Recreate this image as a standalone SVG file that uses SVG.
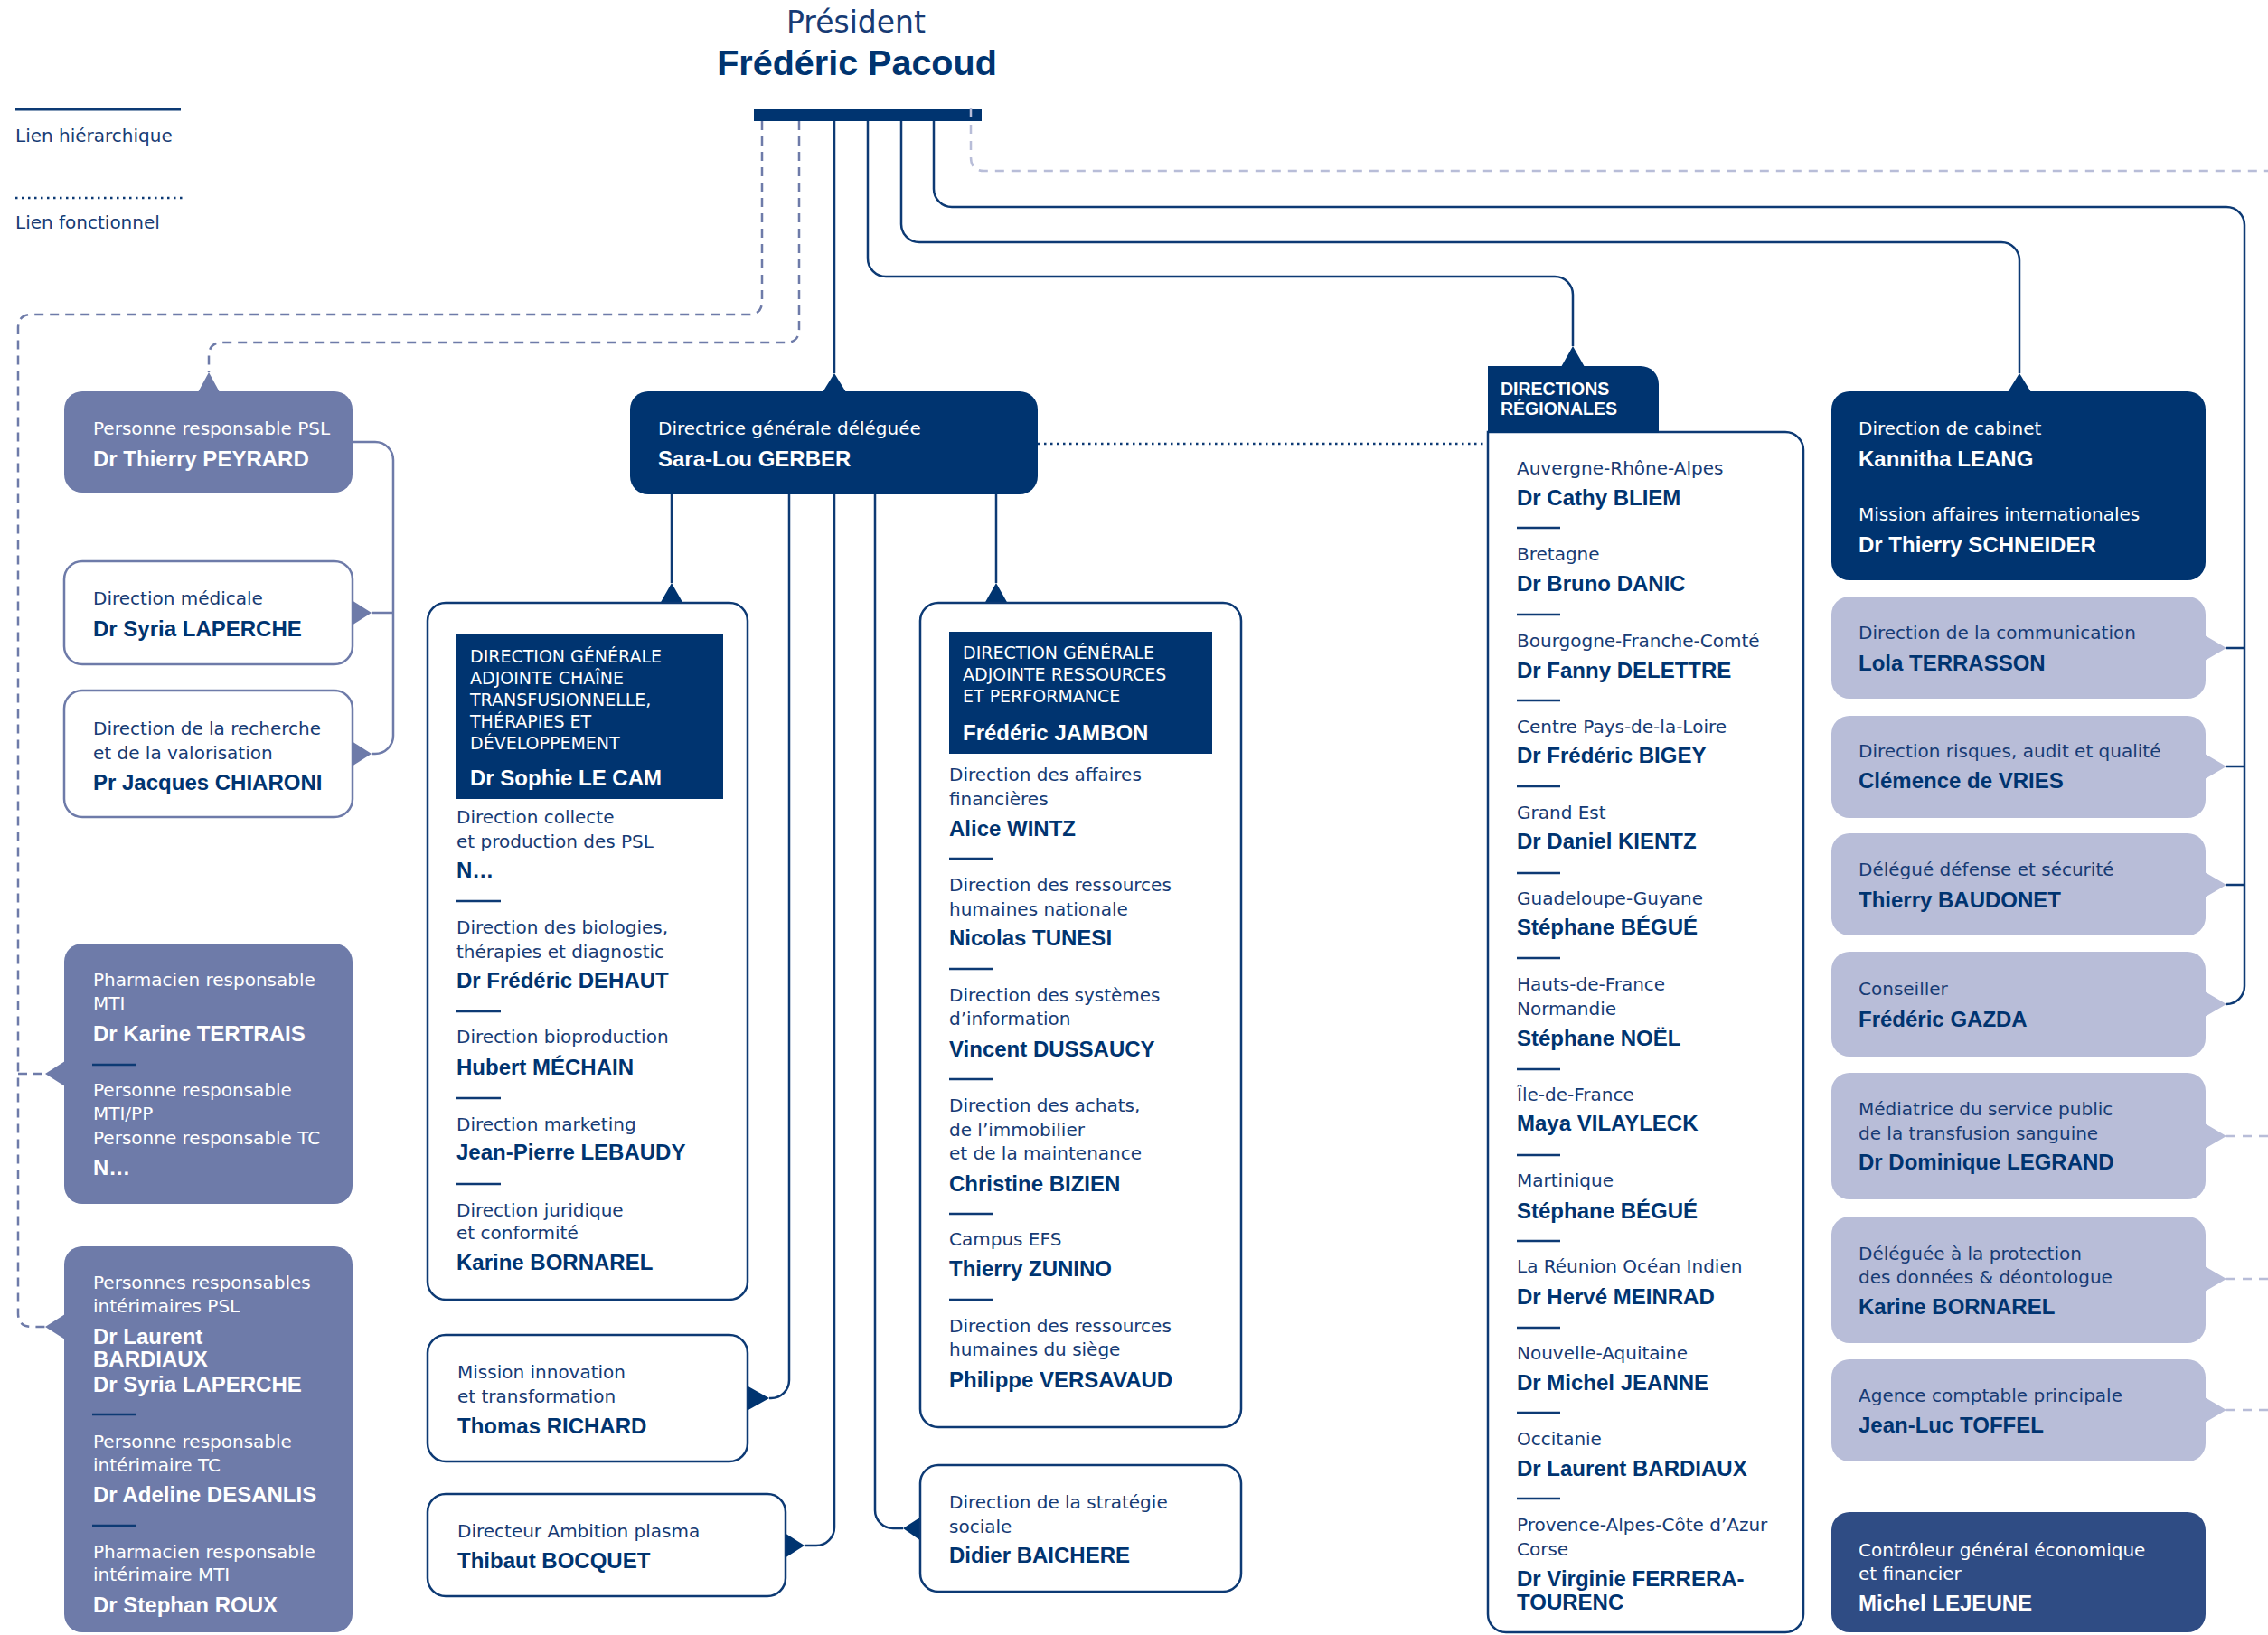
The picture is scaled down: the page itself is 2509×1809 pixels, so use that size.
<svg xmlns="http://www.w3.org/2000/svg" width="2509" height="1809" viewBox="0 0 2509 1809">
<defs>
<style>
.l{font-family:"DejaVu Sans","Liberation Sans",sans-serif;font-size:20px;fill:#173b74}
.h{font-family:"DejaVu Sans","Liberation Sans",sans-serif;font-size:19px;fill:#ffffff}
.n{font-family:"Liberation Sans",Arial,sans-serif;font-weight:bold;font-size:24px;fill:#003470}
.w{fill:#ffffff}
.c{fill:none;stroke:#0d3a74;stroke-width:2.5}
.cs{fill:none;stroke:#6e7ba9;stroke-width:2.5}
.ds{fill:none;stroke:#6e7ba9;stroke-width:2.5;stroke-dasharray:10 7}
.dl{fill:none;stroke:#b8bdd8;stroke-width:2.5;stroke-dasharray:10 8}
.dt{fill:none;stroke:#0d3a74;stroke-width:2.5;stroke-dasharray:2.5 4.5}
.navy{fill:#003470}
.slate{fill:#6e7ba9}
.light{fill:#b8bdd8}
.ctrl{fill:#2f4c84}
.wb{fill:#ffffff;stroke:#0d3a74;stroke-width:2.5}
.ws{fill:#ffffff;stroke:#6e7ba9;stroke-width:2.5}
.sep{stroke:#0d3a74;stroke-width:2.5}
</style>
</defs>
<rect x="0" y="0" width="2509" height="1809" fill="#ffffff"/>

<g id="legend">
<line x1="17" y1="121" x2="200" y2="121" stroke="#0d3a74" stroke-width="3"/>
<text class="l" x="17" y="157">Lien hiérarchique</text>
<line x1="17" y1="219" x2="204" y2="219" class="dt"/>
<text class="l" x="17" y="253">Lien fonctionnel</text>
</g>

<g id="president">
<text x="947" y="36" text-anchor="middle" style="font-family:'DejaVu Sans',sans-serif;font-size:33px;fill:#173b74">Président</text>
<text x="948" y="83" text-anchor="middle" style="font-family:'Liberation Sans',Arial,sans-serif;font-weight:bold;font-size:39.5px;fill:#003470">Frédéric Pacoud</text>
<rect x="834" y="121" width="252" height="13" class="navy"/>
</g>

<g id="connectors">
<path class="ds" d="M843,134 V333 Q843,348 828,348 H35 Q20,348 20,363 V1453 Q20,1468 35,1468 H50"/>
<path class="ds" d="M20,1188 H50"/>
<path class="ds" d="M884,134 V364 Q884,379 869,379 H246 Q231,379 231,394 V412"/>
<path class="dl" d="M1074,120 V174 Q1074,189 1089,189 H2509"/>
<path class="dl" d="M2463,1257 H2509"/>
<path class="dl" d="M2463,1415 H2509"/>
<path class="dl" d="M2463,1560 H2509"/>
<path class="c" d="M923,134 V413"/>
<path class="c" d="M960,134 V286 A20,20 0 0 0 980,306 H1720 A20,20 0 0 1 1740,326 V383"/>
<path class="c" d="M997,134 V248 A20,20 0 0 0 1017,268 H2214 A20,20 0 0 1 2234,288 V413"/>
<path class="c" d="M1033,134 V209 A20,20 0 0 0 1053,229 H2463 A20,20 0 0 1 2483,249 V1091 A20,20 0 0 1 2463,1111"/>
<path class="c" d="M2463,717 H2483 M2463,848 H2483 M2463,979 H2483"/>
<path class="c" d="M743,547 V645"/>
<path class="c" d="M1102,547 V645"/>
<path class="c" d="M873,547 V1527 A20,20 0 0 1 853,1547 H851"/>
<path class="c" d="M923,547 V1690 A20,20 0 0 1 903,1710 H890"/>
<path class="c" d="M968,547 V1671 A20,20 0 0 0 988,1691 H999"/>
<path class="dt" d="M1148,491 H1646"/>
<path class="cs" d="M390,489 H415 A20,20 0 0 1 435,509 V814 A20,20 0 0 1 415,834 H411"/>
<path class="cs" d="M411,678 H435"/>
</g>

<g id="arrows">
<polygon class="slate" points="231,412 219,434 243,434"/>
<polygon class="navy" points="923,413 910,434 936,434"/>
<polygon class="navy" points="1740,383 1727,406 1753,406"/>
<polygon class="navy" points="2234,413 2221,434 2247,434"/>
<polygon class="navy" points="743,645 730,668 756,668"/>
<polygon class="navy" points="1102,645 1089,668 1115,668"/>
<polygon class="navy" points="851,1547 826,1533 826,1561"/>
<polygon class="navy" points="890,1710 868,1696 868,1724"/>
<polygon class="navy" points="999,1691 1019,1678 1019,1705"/>
<polygon class="slate" points="411,678 389,664 389,692"/>
<polygon class="slate" points="411,834 389,820 389,848"/>
<polygon class="slate" points="50,1188 72,1174 72,1202"/>
<polygon class="slate" points="50,1468 72,1454 72,1482"/>
<polygon class="light" points="2463,717 2439,703 2439,731"/>
<polygon class="light" points="2463,848 2439,834 2439,862"/>
<polygon class="light" points="2463,979 2439,965 2439,993"/>
<polygon class="light" points="2463,1111 2439,1097 2439,1125"/>
<polygon class="light" points="2463,1257 2439,1243 2439,1271"/>
<polygon class="light" points="2463,1415 2439,1401 2439,1429"/>
<polygon class="light" points="2463,1560 2439,1546 2439,1574"/>
</g>

<g id="psl">
<rect x="71" y="433" width="319" height="112" rx="20" class="slate"/>
<text class="l w" x="103" y="481">Personne responsable PSL</text>
<text class="n w" x="103" y="516">Dr Thierry PEYRARD</text>
</g>
<g id="direction-medicale">
<rect x="71" y="621" width="319" height="114" rx="20" class="ws"/>
<text class="l" x="103" y="669">Direction médicale</text>
<text class="n" x="103" y="704">Dr Syria LAPERCHE</text>
</g>
<g id="direction-recherche">
<rect x="71" y="764" width="319" height="140" rx="20" class="ws"/>
<text class="l" x="103" y="813">Direction de la recherche</text>
<text class="l" x="103" y="840">et de la valorisation</text>
<text class="n" x="103" y="874">Pr Jacques CHIARONI</text>
</g>
<g id="pharmacien">
<rect x="71" y="1044" width="319" height="288" rx="20" class="slate"/>
<text class="l w" x="103" y="1091">Pharmacien responsable</text>
<text class="l w" x="103" y="1117">MTI</text>
<text class="n w" x="103" y="1152">Dr Karine TERTRAIS</text>
<line x1="102" y1="1178" x2="151" y2="1178" class="sep"/>
<text class="l w" x="103" y="1213">Personne responsable</text>
<text class="l w" x="103" y="1239">MTI/PP</text>
<text class="l w" x="103" y="1266">Personne responsable TC</text>
<text class="n w" x="103" y="1300">N…</text>
</g>
<g id="interimaires">
<rect x="71" y="1379" width="319" height="427" rx="20" class="slate"/>
<text class="l w" x="103" y="1426">Personnes responsables</text>
<text class="l w" x="103" y="1452">intérimaires PSL</text>
<text class="n w" x="103" y="1487">Dr Laurent</text>
<text class="n w" x="103" y="1512">BARDIAUX</text>
<text class="n w" x="103" y="1540">Dr Syria LAPERCHE</text>
<line x1="102" y1="1565" x2="151" y2="1565" class="sep"/>
<text class="l w" x="103" y="1602">Personne responsable</text>
<text class="l w" x="103" y="1628">intérimaire TC</text>
<text class="n w" x="103" y="1662">Dr Adeline DESANLIS</text>
<line x1="102" y1="1688" x2="151" y2="1688" class="sep"/>
<text class="l w" x="103" y="1724">Pharmacien responsable</text>
<text class="l w" x="103" y="1749">intérimaire MTI</text>
<text class="n w" x="103" y="1784">Dr Stephan ROUX</text>
</g>

<g id="sara-lou">
<rect x="697" y="433" width="451" height="114" rx="20" class="navy"/>
<text class="l w" x="728" y="481">Directrice générale déléguée</text>
<text class="n w" x="728" y="516">Sara-Lou GERBER</text>
</g>

<g id="dga-chaine">
<rect x="473" y="667" width="354" height="771" rx="20" class="wb"/>
<rect x="505" y="701" width="295" height="183" class="navy"/>
<text class="h" x="520" y="733">DIRECTION GÉNÉRALE</text>
<text class="h" x="520" y="757">ADJOINTE CHAÎNE</text>
<text class="h" x="520" y="781">TRANSFUSIONNELLE,</text>
<text class="h" x="520" y="805">THÉRAPIES ET</text>
<text class="h" x="520" y="829">DÉVELOPPEMENT</text>
<text class="n w" x="520" y="869">Dr Sophie LE CAM</text>
<text class="l" x="505" y="911">Direction collecte</text>
<text class="l" x="505" y="938">et production des PSL</text>
<text class="n" x="505" y="971">N…</text>
<line x1="505" y1="997" x2="554" y2="997" class="sep"/>
<text class="l" x="505" y="1033">Direction des biologies,</text>
<text class="l" x="505" y="1060">thérapies et diagnostic</text>
<text class="n" x="505" y="1093">Dr Frédéric DEHAUT</text>
<line x1="505" y1="1119" x2="554" y2="1119" class="sep"/>
<text class="l" x="505" y="1154">Direction bioproduction</text>
<text class="n" x="505" y="1189">Hubert MÉCHAIN</text>
<line x1="505" y1="1215" x2="554" y2="1215" class="sep"/>
<text class="l" x="505" y="1251">Direction marketing</text>
<text class="n" x="505" y="1283">Jean-Pierre LEBAUDY</text>
<line x1="505" y1="1310" x2="554" y2="1310" class="sep"/>
<text class="l" x="505" y="1346">Direction juridique</text>
<text class="l" x="505" y="1371">et conformité</text>
<text class="n" x="505" y="1405">Karine BORNAREL</text>
</g>

<g id="mission-innovation">
<rect x="473" y="1477" width="354" height="140" rx="20" class="wb"/>
<text class="l" x="506" y="1525">Mission innovation</text>
<text class="l" x="506" y="1552">et transformation</text>
<text class="n" x="506" y="1586">Thomas RICHARD</text>
</g>
<g id="ambition-plasma">
<rect x="473" y="1653" width="396" height="113" rx="20" class="wb"/>
<text class="l" x="506" y="1701">Directeur Ambition plasma</text>
<text class="n" x="506" y="1735">Thibaut BOCQUET</text>
</g>

<g id="dga-ressources">
<rect x="1018" y="667" width="355" height="912" rx="20" class="wb"/>
<rect x="1050" y="699" width="291" height="135" class="navy"/>
<text class="h" x="1065" y="729">DIRECTION GÉNÉRALE</text>
<text class="h" x="1065" y="753">ADJOINTE RESSOURCES</text>
<text class="h" x="1065" y="777">ET PERFORMANCE</text>
<text class="n w" x="1065" y="819">Frédéric JAMBON</text>
<text class="l" x="1050" y="864">Direction des affaires</text>
<text class="l" x="1050" y="891">financières</text>
<text class="n" x="1050" y="925">Alice WINTZ</text>
<line x1="1050" y1="950" x2="1099" y2="950" class="sep"/>
<text class="l" x="1050" y="986">Direction des ressources</text>
<text class="l" x="1050" y="1013">humaines nationale</text>
<text class="n" x="1050" y="1046">Nicolas TUNESI</text>
<line x1="1050" y1="1072" x2="1099" y2="1072" class="sep"/>
<text class="l" x="1050" y="1108">Direction des systèmes</text>
<text class="l" x="1050" y="1134">d’information</text>
<text class="n" x="1050" y="1169">Vincent DUSSAUCY</text>
<line x1="1050" y1="1194" x2="1099" y2="1194" class="sep"/>
<text class="l" x="1050" y="1230">Direction des achats,</text>
<text class="l" x="1050" y="1257">de l’immobilier</text>
<text class="l" x="1050" y="1283">et de la maintenance</text>
<text class="n" x="1050" y="1318">Christine BIZIEN</text>
<line x1="1050" y1="1343" x2="1099" y2="1343" class="sep"/>
<text class="l" x="1050" y="1378">Campus EFS</text>
<text class="n" x="1050" y="1412">Thierry ZUNINO</text>
<line x1="1050" y1="1438" x2="1099" y2="1438" class="sep"/>
<text class="l" x="1050" y="1474">Direction des ressources</text>
<text class="l" x="1050" y="1500">humaines du siège</text>
<text class="n" x="1050" y="1535">Philippe VERSAVAUD</text>
</g>

<g id="strategie-sociale">
<rect x="1018" y="1621" width="355" height="140" rx="20" class="wb"/>
<text class="l" x="1050" y="1669">Direction de la stratégie</text>
<text class="l" x="1050" y="1696">sociale</text>
<text class="n" x="1050" y="1729">Didier BAICHERE</text>
</g>

<g id="directions-regionales">
<path class="wb" d="M1646,478 H1975 A20,20 0 0 1 1995,498 V1786 A20,20 0 0 1 1975,1806 H1666 A20,20 0 0 1 1646,1786 Z"/>
<path class="navy" d="M1646,405 H1815 A20,20 0 0 1 1835,425 V479 H1646 Z"/>
<text x="1660" y="437" style="font-family:'Liberation Sans',Arial,sans-serif;font-weight:bold;font-size:19.5px;fill:#ffffff">DIRECTIONS</text>
<text x="1660" y="459" style="font-family:'Liberation Sans',Arial,sans-serif;font-weight:bold;font-size:19.5px;fill:#ffffff">RÉGIONALES</text>
<text class="l" x="1678" y="525">Auvergne-Rhône-Alpes</text>
<text class="n" x="1678" y="559">Dr Cathy BLIEM</text>
<line x1="1678" y1="584" x2="1726" y2="584" class="sep"/>
<text class="l" x="1678" y="620">Bretagne</text>
<text class="n" x="1678" y="654">Dr Bruno DANIC</text>
<line x1="1678" y1="680" x2="1726" y2="680" class="sep"/>
<text class="l" x="1678" y="716">Bourgogne-Franche-Comté</text>
<text class="n" x="1678" y="750">Dr Fanny DELETTRE</text>
<line x1="1678" y1="775" x2="1726" y2="775" class="sep"/>
<text class="l" x="1678" y="811">Centre Pays-de-la-Loire</text>
<text class="n" x="1678" y="844">Dr Frédéric BIGEY</text>
<line x1="1678" y1="870" x2="1726" y2="870" class="sep"/>
<text class="l" x="1678" y="906">Grand Est</text>
<text class="n" x="1678" y="939">Dr Daniel KIENTZ</text>
<line x1="1678" y1="966" x2="1726" y2="966" class="sep"/>
<text class="l" x="1678" y="1001">Guadeloupe-Guyane</text>
<text class="n" x="1678" y="1034">Stéphane BÉGUÉ</text>
<line x1="1678" y1="1060" x2="1726" y2="1060" class="sep"/>
<text class="l" x="1678" y="1096">Hauts-de-France</text>
<text class="l" x="1678" y="1123">Normandie</text>
<text class="n" x="1678" y="1157">Stéphane NOËL</text>
<line x1="1678" y1="1183" x2="1726" y2="1183" class="sep"/>
<text class="l" x="1678" y="1218">Île-de-France</text>
<text class="n" x="1678" y="1251">Maya VILAYLECK</text>
<line x1="1678" y1="1278" x2="1726" y2="1278" class="sep"/>
<text class="l" x="1678" y="1313">Martinique</text>
<text class="n" x="1678" y="1348">Stéphane BÉGUÉ</text>
<line x1="1678" y1="1373" x2="1726" y2="1373" class="sep"/>
<text class="l" x="1678" y="1408">La Réunion Océan Indien</text>
<text class="n" x="1678" y="1443">Dr Hervé MEINRAD</text>
<line x1="1678" y1="1469" x2="1726" y2="1469" class="sep"/>
<text class="l" x="1678" y="1504">Nouvelle-Aquitaine</text>
<text class="n" x="1678" y="1538">Dr Michel JEANNE</text>
<line x1="1678" y1="1563" x2="1726" y2="1563" class="sep"/>
<text class="l" x="1678" y="1599">Occitanie</text>
<text class="n" x="1678" y="1633">Dr Laurent BARDIAUX</text>
<line x1="1678" y1="1658" x2="1726" y2="1658" class="sep"/>
<text class="l" x="1678" y="1694">Provence-Alpes-Côte d’Azur</text>
<text class="l" x="1678" y="1721">Corse</text>
<text class="n" x="1678" y="1755">Dr Virginie FERRERA-</text>
<text class="n" x="1678" y="1781">TOURENC</text>
</g>

<g id="cabinet">
<rect x="2026" y="433" width="414" height="209" rx="20" class="navy"/>
<text class="l w" x="2056" y="481">Direction de cabinet</text>
<text class="n w" x="2056" y="516">Kannitha LEANG</text>
<text class="l w" x="2056" y="576">Mission affaires internationales</text>
<text class="n w" x="2056" y="611">Dr Thierry SCHNEIDER</text>
</g>
<g id="communication">
<rect x="2026" y="660" width="414" height="113" rx="20" class="light"/>
<text class="l" x="2056" y="707">Direction de la communication</text>
<text class="n" x="2056" y="742">Lola TERRASSON</text>
</g>
<g id="risques">
<rect x="2026" y="792" width="414" height="113" rx="20" class="light"/>
<text class="l" x="2056" y="838">Direction risques, audit et qualité</text>
<text class="n" x="2056" y="872">Clémence de VRIES</text>
</g>
<g id="defense">
<rect x="2026" y="922" width="414" height="113" rx="20" class="light"/>
<text class="l" x="2056" y="969">Délégué défense et sécurité</text>
<text class="n" x="2056" y="1004">Thierry BAUDONET</text>
</g>
<g id="conseiller">
<rect x="2026" y="1053" width="414" height="116" rx="20" class="light"/>
<text class="l" x="2056" y="1101">Conseiller</text>
<text class="n" x="2056" y="1136">Frédéric GAZDA</text>
</g>
<g id="mediatrice">
<rect x="2026" y="1187" width="414" height="140" rx="20" class="light"/>
<text class="l" x="2056" y="1234">Médiatrice du service public</text>
<text class="l" x="2056" y="1261">de la transfusion sanguine</text>
<text class="n" x="2056" y="1294">Dr Dominique LEGRAND</text>
</g>
<g id="protection-donnees">
<rect x="2026" y="1346" width="414" height="140" rx="20" class="light"/>
<text class="l" x="2056" y="1394">Déléguée à la protection</text>
<text class="l" x="2056" y="1420">des données &amp; déontologue</text>
<text class="n" x="2056" y="1454">Karine BORNAREL</text>
</g>
<g id="agence-comptable">
<rect x="2026" y="1504" width="414" height="113" rx="20" class="light"/>
<text class="l" x="2056" y="1551">Agence comptable principale</text>
<text class="n" x="2056" y="1585">Jean-Luc TOFFEL</text>
</g>
<g id="controleur">
<rect x="2026" y="1673" width="414" height="133" rx="20" class="ctrl"/>
<text class="l w" x="2056" y="1722">Contrôleur général économique</text>
<text class="l w" x="2056" y="1748">et financier</text>
<text class="n w" x="2056" y="1782">Michel LEJEUNE</text>
</g>
</svg>
